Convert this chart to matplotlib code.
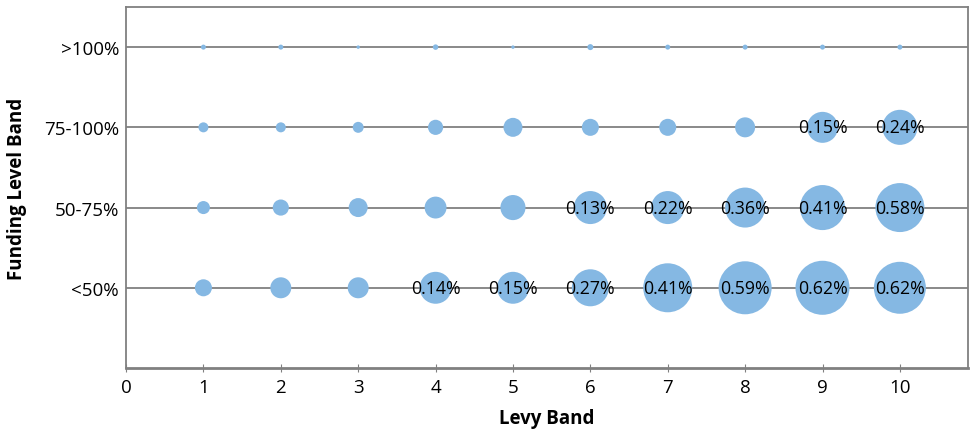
import numpy as np
import matplotlib
matplotlib.use('Agg')
import matplotlib.pyplot as plt

plt.rcParams['font.family'] = ['Open Sans', 'DejaVu Sans']

# ── data ──
levy_bands = [1, 2, 3, 4, 5, 6, 7, 8, 9, 10]
funding_bands = ["<50%", "50-75%", "75-100%", ">100%"]

# bubble weight (area) per funding band
weight_lt50   = [2.9, 4.4, 4.4, 10.2, 10.2, 13.7, 24.0, 28.1, 29.2, 27.0]
weight_50_75  = [1.7, 2.6, 3.6, 4.8, 6.3, 10.9, 10.9, 16.0, 20.3, 24.0]
weight_75_100 = [1.0, 1.0, 1.2, 2.3, 3.6, 2.9, 2.9, 4.0, 9.6, 12.3]
weight_gt100  = [0.25, 0.25, 0.12, 0.3, 0.12, 0.36, 0.25, 0.25, 0.25, 0.25]

# data labels shown on the bubbles (None = no label)
label_lt50   = [None, None, None, "0.14%", "0.15%", "0.27%", "0.41%", "0.59%", "0.62%", "0.62%"]
label_50_75  = [None, None, None, None, None, "0.13%", "0.22%", "0.36%", "0.41%", "0.58%"]
label_75_100 = [None, None, None, None, None, None, None, None, "0.15%", "0.24%"]
label_gt100  = [None] * 10

weights = [weight_lt50, weight_50_75, weight_75_100, weight_gt100]
labels  = [label_lt50, label_50_75, label_75_100, label_gt100]

fig = plt.figure(figsize=(9.71, 4.35), dpi=100)
ax = fig.add_axes([0.1298, 0.1517, 0.8671, 0.8299])

grid_c = '#808080'
bubble_c = '#85b8e3'
px2pt = 72 / 100.0

for i, (w_row, l_row) in enumerate(zip(weights, labels)):
    yv = i + 1
    ax.axhline(yv, color=grid_c, lw=1.3, zorder=1)
    w = np.array(w_row)
    # weight*100 -> diameter^2 in pixels
    s = w * 100 * px2pt ** 2
    ax.scatter(levy_bands, [yv] * len(levy_bands), s=s, color=bubble_c,
               edgecolors='none', zorder=2)
    for xv, lab in zip(levy_bands, l_row):
        if lab:
            ax.text(xv, yv, lab, ha='center', va='center', fontsize=12.8,
                    color='black', zorder=3)

ax.set_xlim(0, 10.88)
ax.set_ylim(0, 4.5)
ax.set_xticks(range(0, 11))
ax.set_yticks([1, 2, 3, 4])
ax.set_yticklabels(funding_bands)
ax.tick_params(axis='x', direction='inout', length=6, color=grid_c,
               labelsize=13.5, pad=4)
ax.tick_params(axis='y', direction='out', length=0, labelsize=13.5, pad=5)
for sp in ax.spines.values():
    sp.set_color(grid_c)
    sp.set_linewidth(1.3)
ax.spines['bottom'].set_linewidth(2)

ax.set_xlabel("Levy Band", fontsize=13.5, fontweight='bold', labelpad=9)
ax.set_ylabel("Funding Level Band", fontsize=13.5, fontweight='bold', labelpad=12)

plt.savefig('out.png', dpi=100)
plt.close()
